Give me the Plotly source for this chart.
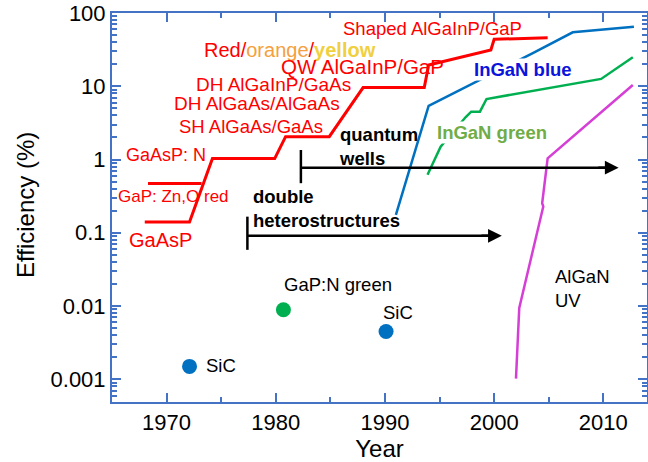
import numpy as np
import plotly.graph_objects as go

# Red family (GaAsP -> AlGaInP), main staircase
red_year = [1968.0, 1972.1, 1974.2, 1979.9, 1980.9, 1984.9, 1988.0, 1993.6, 1994.0, 1999.7, 2000.0, 2004.9]
red_eff = [0.14, 0.14, 1.03, 1.03, 2.05, 2.05, 9.6, 9.6, 19.5, 31.3, 43.7, 46.0]

# GaP: Zn,O red segment
gap_red_year = [1968.3, 1973.2]
gap_red_eff = [0.47, 0.47]

# InGaN blue
blue_year = [1991.0, 1994.0, 2003.5, 2007.2, 2012.8]
blue_eff = [0.175, 5.4, 28.2, 54.5, 65.0]

# InGaN green (gap hidden under label)
green_year = [1993.9, 1995.1, 1997.4, 1997.9, 1998.7, 1999.3, 2009.8, 2012.7]
green_eff = [0.62, 1.5, 3.8, 4.5, 4.5, 6.7, 12.6, 24.9]

# AlGaN UV
uv_year = [2002.0, 2002.3, 2004.5, 2004.4, 2004.9, 2012.7]
uv_eff = [0.00102, 0.0094, 0.228, 0.253, 1.04, 10.4]

# single points
sic_year = [1972.1, 1990.1]
sic_eff = [0.0015, 0.0045]
gapn_year = [1980.7]
gapn_eff = [0.0089]

# arrows: start year, end year, level, bar bottom, bar top
qw_arrow = (1982.3, 2011.4, 0.775, 0.475, 1.35)
dh_arrow = (1977.4, 2000.7, 0.091, 0.0585, 0.166)

ytick_vals = [0.001, 0.01, 0.1, 1, 10, 100]
ytick_text = ['0.001', '0.01', '0.1', '1', '10', '100']
xtick_vals = [1970, 1980, 1990, 2000, 2010]

AXIS = '#4472C4'
FONT = 'Liberation Sans, Arial, sans-serif'

fig = go.Figure()


def add_line(x, y, color, width=3):
    fig.add_trace(go.Scatter(x=x, y=y, mode='lines', line=dict(color=color, width=width),
                             showlegend=False, hoverinfo='skip'))


add_line(red_year, red_eff, '#FF0000', 3)
add_line(gap_red_year, gap_red_eff, '#FF0000', 3)
add_line(blue_year, blue_eff, '#0070C0', 2.5)
add_line(green_year, green_eff, '#00B050', 2.5)
add_line(uv_year, uv_eff, '#D63FD6', 2.5)

for a in (qw_arrow, dh_arrow):
    x0, x1, lev, lo, hi = a
    add_line([x0, x0], [lo, hi], 'black', 2.5)
    add_line([x0, x1 - 0.8], [lev, lev], 'black', 2.5)
    fig.add_annotation(x=x1, y=np.log10(lev), ax=x1 - 2, ay=np.log10(lev),
                       axref='x', ayref='y', xref='x', yref='y', text='',
                       showarrow=True, arrowhead=2, arrowsize=1.1, arrowwidth=2.5,
                       arrowcolor='black')

fig.add_trace(go.Scatter(x=sic_year, y=sic_eff, mode='markers',
                         marker=dict(color='#0070C0', size=15), showlegend=False))
fig.add_trace(go.Scatter(x=gapn_year, y=gapn_eff, mode='markers',
                         marker=dict(color='#00B050', size=15), showlegend=False))


def label(x, y, text, color='#FF0000', size=19, bold=False, bg=None):
    if bold:
        text = '<b>' + text + '</b>'
    fig.add_annotation(x=x, y=np.log10(y), text=text, showarrow=False, xanchor='left',
                       yanchor='middle', align='left',
                       font=dict(color=color, size=size, family=FONT),
                       bgcolor=bg, borderpad=0)


label(1986.1, 60.5, 'Shaped AlGaInP/GaP', size=18.5)
label(1973.3, 31.3, 'Red/<span style="color:#F5A040">orange</span>/'
      '<span style="color:#F0D040"><b>yellow</b></span>', size=20)
label(1980.4, 18.9, 'QW AlGaInP/GaP', size=20.5)
label(1972.6, 10.7, 'DH AlGaInP/GaAs', size=19)
label(1970.6, 5.74, 'DH AlGaAs/AlGaAs', size=19)
label(1971.0, 2.79, 'SH AlGaAs/GaAs', size=18.5)
label(1966.2, 1.16, 'GaAsP: N', size=18)
label(1965.5, 0.31, 'GaP: Zn,O red', size=17)
label(1966.5, 0.08, 'GaAsP', size=20)
label(1985.7, 1.51, 'quantum<br>wells', color='black', size=18.5, bold=True)
label(1977.8, 0.212, 'double<br>heterostructures', color='black', size=18.5, bold=True)
label(1998.1, 16.7, 'InGaN blue', color='#0A14DC', size=18.5, bold=True, bg='white')
label(1994.7, 2.31, 'InGaN green', color='#70AD47', size=18.5, bold=True, bg='white')
label(1980.7, 0.0194, 'GaP:N green', color='black', size=18.5)
label(1973.5, 0.00153, 'SiC', color='black', size=18.5)
label(1989.7, 0.0081, 'SiC', color='black', size=18.5)
label(2005.5, 0.0172, 'AlGaN<br>UV', color='black', size=18.5)

# y axis title as annotation so it can sit a little closer to the ticks
fig.add_annotation(x=-0.163, y=0.506, xref='paper', yref='paper', text='Efficiency (%)',
                   textangle=-90, showarrow=False, xanchor='center', yanchor='middle',
                   font=dict(size=24, family=FONT, color='black'))

fig.update_layout(
    width=648, height=462,
    margin=dict(l=112, r=1, t=13, b=60),
    paper_bgcolor='white', plot_bgcolor='white',
    font=dict(family=FONT, color='black'),
    showlegend=False,
    xaxis=dict(range=[1965, 2014], tickvals=xtick_vals, ticks='inside', ticklen=9,
               tickwidth=2, tickcolor=AXIS, showline=True, linecolor=AXIS, linewidth=2,
               mirror='ticks', showgrid=False, zeroline=False, automargin=False,
               tickfont=dict(size=22), title=dict(text='Year', font=dict(size=24)),
               minor=dict(dtick=5, tick0=1965, ticks='inside', ticklen=5, tickwidth=2,
                          tickcolor=AXIS, showgrid=False)),
    yaxis=dict(type='log', range=[-3.31, 2.0], tickvals=ytick_vals, ticktext=ytick_text,
               ticks='inside', ticklen=9, tickwidth=2, tickcolor=AXIS, showline=True,
               linecolor=AXIS, linewidth=2, mirror='ticks', showgrid=False,
               automargin=False, tickfont=dict(size=22), ticklabeloverflow='allow',
               minor=dict(dtick='D1', ticks='inside', ticklen=5, tickwidth=1.5,
                          tickcolor=AXIS, showgrid=False)),
)

# drop the default 8px page margin so the figure fills the window exactly
fig.write_html("out.html", config={'displayModeBar': False},
               post_script="document.body.style.margin='0';")
